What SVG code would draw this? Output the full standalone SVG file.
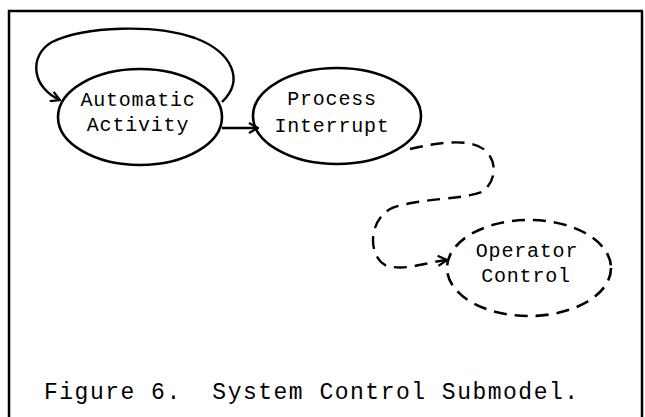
<svg xmlns="http://www.w3.org/2000/svg" width="645" height="417" viewBox="0 0 645 417">
<style>
.node{fill:none;stroke:#000;stroke-width:2.6}
.dash{stroke-dasharray:13 8}
.lbl{font-family:"Liberation Mono","Courier New",monospace;font-size:20px;letter-spacing:0.8px;fill:#000;text-anchor:middle}
.conn{fill:none;stroke:#000;stroke-width:2.4}
.cap{font-family:"Liberation Mono","Courier New",monospace;font-size:23px;letter-spacing:1.5px;fill:#000}
.frame{fill:none;stroke:#000;stroke-width:2.5}
</style>
<defs>
<marker id="arr" viewBox="0 0 12 12" refX="11" refY="6" markerWidth="12" markerHeight="12" markerUnits="userSpaceOnUse" orient="auto">
<polyline points="2,1 11,6 2,11" fill="none" stroke="#000" stroke-width="2.2"/>
</marker>
</defs>
<rect width="645" height="417" fill="#fff"/>
<path class="frame" d="M9,417 V11 H643 M642,11 V417"/>
<g id="automatic-activity">
<ellipse class="node" cx="140" cy="117" rx="82" ry="48"/>
<text class="lbl" x="138" y="106">Automatic</text>
<text class="lbl" x="138" y="131">Activity</text>
</g>
<g id="process-interrupt">
<ellipse class="node" cx="337" cy="116" rx="84" ry="48"/>
<text class="lbl" x="332" y="105">Process</text>
<text class="lbl" x="332" y="132">Interrupt</text>
</g>
<g id="operator-control">
<ellipse class="node dash" cx="529" cy="268" rx="82" ry="48"/>
<text class="lbl" x="527" y="257">Operator</text>
<text class="lbl" x="526" y="282">Control</text>
</g>
<g id="connectors">
<path class="conn" marker-end="url(#arr)" d="M222,102 C245,80 232,52 195,38 C155,24 85,26 52,42 C28,56 32,88 60,100"/>
<path class="conn" marker-end="url(#arr)" d="M222,128 L258,128"/>
<path class="conn dash" marker-end="url(#arr)" d="M410,149 C440,142 470,138 485,150 C498,162 496,182 482,192 C460,200 420,198 392,208 C368,220 368,255 385,265 C405,272 425,262 447,260"/>
</g>
<text class="cap" x="44" y="399" xml:space="preserve">Figure 6.  System Control Submodel.</text>
</svg>
